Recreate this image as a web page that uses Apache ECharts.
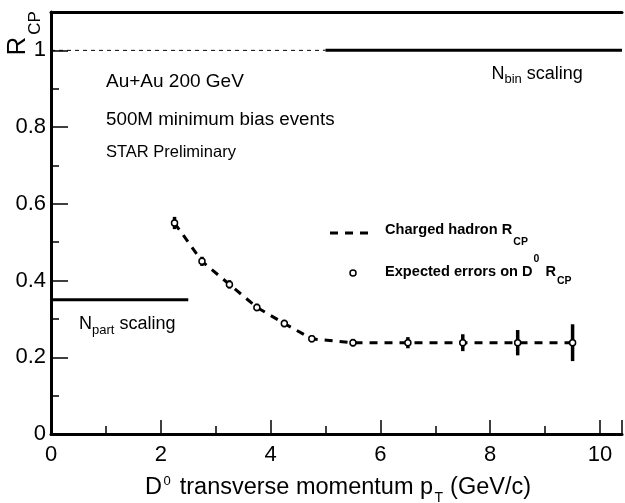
<!DOCTYPE html>
<html>
<head>
<meta charset="utf-8">
<script src="https://cdn.jsdelivr.net/npm/echarts@6/dist/echarts.min.js"></script>
<style>
  html, body { margin: 0; padding: 0; background: #fff; }
  #chart { width: 625px; height: 503px; }
</style>
</head>
<body>
<div id="chart"></div>
<script>
// charged hadron R_CP curve and the expected D0 points on it
const ptBins = [2.25, 2.75, 3.25, 3.75, 4.25, 4.75, 5.5, 6.5, 7.5, 8.5, 9.5];
const hadronRcp = [0.55, 0.45, 0.39, 0.33, 0.288, 0.248, 0.238, 0.238, 0.238, 0.238, 0.238];
const d0Errors = [0.016, 0.012, 0.011, 0.01, 0.01, 0.009, 0.01, 0.0145, 0.022, 0.033, 0.048];

// scaling reference lines
const nbinLevel = 1;
const nbinDashX = [0, 5];
const nbinSolidX = [5, 10.4];
const npartLevel = 0.35;
const npartX = [0, 2.5];

const xTicks = [0, 2, 4, 6, 8, 10];
const yTicks = [0, 0.2, 0.4, 0.6, 0.8, 1];

const FONT = "'Liberation Sans', Arial, Helvetica, sans-serif";

let curve = ptBins.map((x, i) => [x, hadronRcp[i]]);
let points = ptBins.map((x, i) => [x, hadronRcp[i], d0Errors[i]]);

// text measuring so sub/superscripts follow the main text
const ctx = document.createElement('canvas').getContext('2d');
function textWidth(t, size, bold) {
    ctx.font = (bold ? 'bold ' : '') + size + 'px ' + FONT;
    return ctx.measureText(t).width;
}

function txt(text, x, y, size, opts) {
    opts = opts || {};
    return {
        type: 'text', x: x, y: y, rotation: opts.rotation || 0, z: 100,
        style: {
            text: text, fill: '#000', fontSize: size, fontFamily: FONT,
            fontWeight: opts.bold ? 'bold' : 'normal',
            align: opts.align || 'left', textAlign: opts.align || 'left',
            verticalAlign: 'middle', textVerticalAlign: 'middle'
        }
    };
}

// parts: [text, size, dy, gapBefore]
function seq(x, y, parts, bold) {
    let out = [];
    parts.forEach(function (p) {
        x += p[3] || 0;
        out.push(txt(p[0], x, y + (p[2] || 0), p[1], { bold: bold }));
        x += textWidth(p[0], p[1], bold);
    });
    return out;
}

let labels = [].concat(
    // y axis title R_CP (rotated)
    [txt('R', 18, 46, 26, { rotation: Math.PI / 2, align: 'center' }),
     txt('CP', 35, 23, 17, { rotation: Math.PI / 2, align: 'center' })],
    // x axis title
    seq(145, 487.5, [['D', 23.5], ['0', 13, -6.5, 1.5], ['transverse momentum p', 23.5, 0, 9],
                     ['T', 14, 11, 1.5], ['(GeV/c)', 23.5, 0, 7]]),
    // labels in the frame
    [txt('Au+Au 200 GeV', 106, 82, 19),
     txt('500M minimum bias events', 106, 120, 18.8),
     txt('STAR Preliminary', 106, 152, 16.5)],
    seq(491.5, 74, [['N', 18], ['bin', 13, 5], [' scaling', 18]]),
    seq(79, 324, [['N', 18], ['part', 13, 6], [' scaling', 18]]),
    // legend texts
    seq(385, 230, [['Charged hadron R', 14.6], ['CP', 10.5, 12, 1]], true),
    seq(385, 271.5, [['Expected errors on D', 14.6], ['0', 10.5, -12, 1], ['R', 14.6, 0, 6], ['CP', 10.5, 10, 1]], true)
);

const chart = echarts.init(document.querySelector('#chart'));
chart.setOption({
    animation: false,
    backgroundColor: '#fff',
    grid: { left: 51, right: 0, top: 12, bottom: 69 },
    xAxis: [{
        type: 'value', min: 0, max: 10.4, interval: 2,
        axisLine: { lineStyle: { color: '#000', width: 3 } },
        axisTick: { inside: true, length: 14, lineStyle: { color: '#000', width: 1.5 } },
        minorTick: { show: true, splitNumber: 2, length: 8, lineStyle: { color: '#000', width: 1.5 } },
        axisLabel: {
            margin: 10, color: '#000', fontSize: 22, fontFamily: FONT,
            formatter: v => xTicks.indexOf(v) >= 0 ? String(v) : ''
        },
        splitLine: { show: false }
    }, {
        type: 'value', position: 'top', min: 0, max: 10.4,
        axisLine: { lineStyle: { color: '#000', width: 3 } },
        axisTick: { show: false }, axisLabel: { show: false }, splitLine: { show: false }
    }],
    yAxis: {
        type: 'value', min: 0, max: 1.1, interval: 0.2,
        axisLine: { lineStyle: { color: '#000', width: 3 } },
        axisTick: { inside: true, length: 17, lineStyle: { color: '#000', width: 1.5 } },
        minorTick: { show: true, splitNumber: 2, length: 8, lineStyle: { color: '#000', width: 1.5 } },
        axisLabel: {
            margin: 5, color: '#000', fontSize: 22, fontFamily: FONT,
            formatter: v => yTicks.some(t => Math.abs(t - v) < 1e-6) ? String(+v.toFixed(1)) : ''
        },
        splitLine: { show: false }
    },
    series: [
        {
            type: 'line', data: nbinDashX.map(x => [x, nbinLevel]), symbol: 'none',
            lineStyle: { color: '#000', width: 1, type: [4, 4] }, z: 2
        },
        {
            type: 'line', data: nbinSolidX.map(x => [x, nbinLevel]), symbol: 'none',
            lineStyle: { color: '#000', width: 3 }, z: 2
        },
        {
            type: 'line', data: npartX.map(x => [x, npartLevel]), symbol: 'none',
            lineStyle: { color: '#000', width: 3 }, z: 2
        },
        {
            name: 'Charged hadron', type: 'line', data: curve, symbol: 'none',
            lineStyle: { color: '#000', width: 3, type: [8, 7] }, z: 3
        },
        {
            type: 'custom', data: points, encode: { x: 0, y: 1 }, z: 4,
            renderItem: function (params, api) {
                let x = api.value(0), y = api.value(1), e = api.value(2);
                let p1 = api.coord([x, y - e]);
                let p2 = api.coord([x, y + e]);
                return {
                    type: 'line',
                    shape: { x1: p1[0], y1: p1[1], x2: p2[0], y2: p2[1] },
                    style: { stroke: '#000', lineWidth: 3.5 }
                };
            }
        },
        {
            name: 'Expected D0', type: 'scatter', data: curve, symbol: 'circle', symbolSize: 6,
            itemStyle: { color: '#fff', borderColor: '#000', borderWidth: 1.5, opacity: 1 },
            emphasis: { disabled: true }, z: 5
        }
    ],
    graphic: labels.concat([
        {
            type: 'line', z: 100,
            shape: { x1: 330, y1: 233, x2: 372, y2: 233 },
            style: { stroke: '#000', lineWidth: 3, lineDash: [8, 7] }
        },
        {
            type: 'circle', z: 100,
            shape: { cx: 353, cy: 273, r: 3 },
            style: { fill: '#fff', stroke: '#000', lineWidth: 1.5 }
        }
    ])
});
</script>
</body>
</html>
